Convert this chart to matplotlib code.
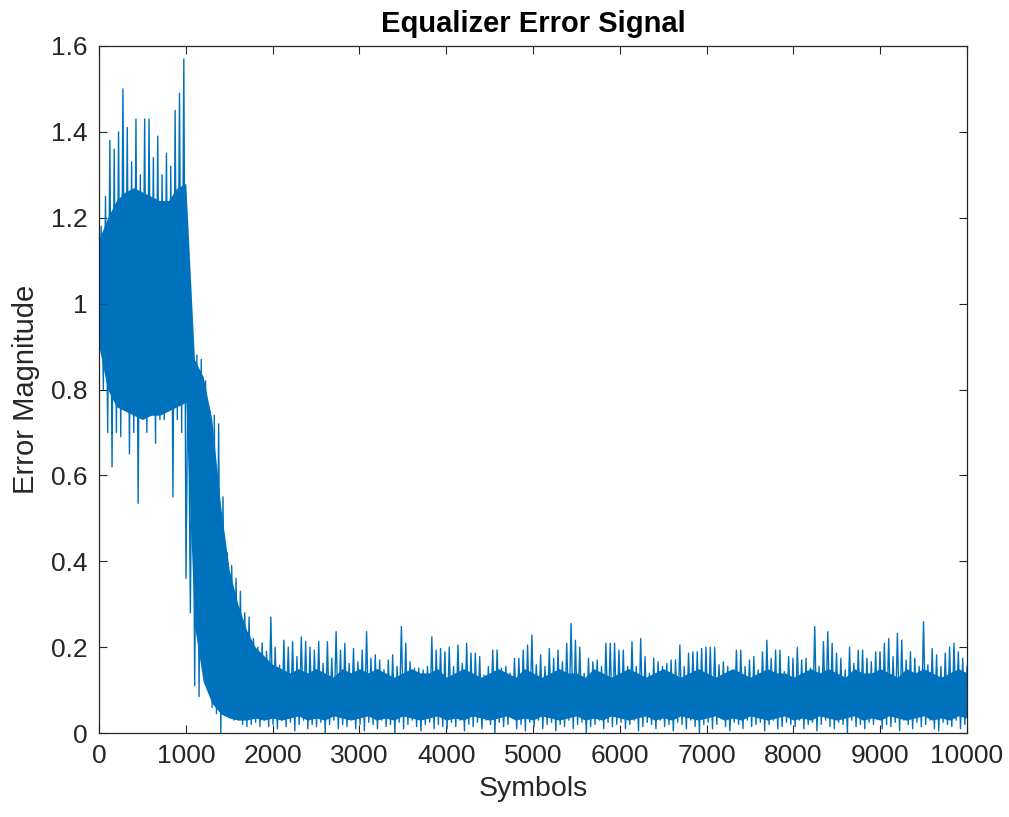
import numpy as np
import matplotlib
matplotlib.use("Agg")
import matplotlib.pyplot as plt

plt.rcParams['font.family'] = ['Liberation Sans', 'DejaVu Sans']

n_symbols = 10000
# error magnitude, one local max and one local min per 50-symbol bin
peak_vals = [
    # 0 - 1000
    1.18, 1.25, 1.38, 1.36, 1.40, 1.50, 1.41, 1.33, 1.43, 1.30,
    1.43, 1.43, 1.34, 1.39, 1.30, 1.35, 1.32, 1.45, 1.49, 1.57,
    # 1000 - 2000
    0.91, 0.89, 0.88, 0.87, 0.82, 0.75, 0.74, 0.72, 0.55, 0.42,
    0.39, 0.36, 0.33, 0.28, 0.27, 0.22, 0.20, 0.21, 0.19, 0.27,
    # 2000 - 4000
    0.200, 0.158, 0.216, 0.200, 0.213, 0.178, 0.224, 0.213, 0.200, 0.193,
    0.213, 0.162, 0.213, 0.174, 0.236, 0.193, 0.209, 0.162, 0.197, 0.166,
    0.193, 0.236, 0.174, 0.182, 0.170, 0.147, 0.170, 0.182, 0.155, 0.248,
    0.209, 0.166, 0.151, 0.151, 0.147, 0.155, 0.224, 0.193, 0.197, 0.189,
    # 4000 - 6000
    0.200, 0.155, 0.205, 0.162, 0.209, 0.186, 0.186, 0.178, 0.135, 0.155,
    0.193, 0.193, 0.151, 0.155, 0.139, 0.174, 0.174, 0.193, 0.205, 0.228,
    0.159, 0.182, 0.155, 0.197, 0.174, 0.193, 0.166, 0.209, 0.255, 0.216,
    0.200, 0.139, 0.174, 0.166, 0.170, 0.155, 0.209, 0.209, 0.209, 0.193,
    # 6000 - 8000
    0.193, 0.155, 0.213, 0.155, 0.220, 0.178, 0.139, 0.174, 0.166, 0.155,
    0.162, 0.170, 0.170, 0.205, 0.155, 0.186, 0.189, 0.189, 0.197, 0.200,
    0.200, 0.200, 0.159, 0.166, 0.155, 0.139, 0.193, 0.193, 0.155, 0.170,
    0.178, 0.147, 0.189, 0.216, 0.174, 0.193, 0.193, 0.143, 0.178, 0.174,
    # 8000 - 10000
    0.200, 0.170, 0.174, 0.151, 0.248, 0.155, 0.213, 0.236, 0.209, 0.186,
    0.174, 0.147, 0.200, 0.162, 0.193, 0.193, 0.174, 0.166, 0.189, 0.189,
    0.209, 0.220, 0.178, 0.232, 0.216, 0.170, 0.189, 0.174, 0.155, 0.259,
    0.159, 0.197, 0.182, 0.155, 0.186, 0.200, 0.209, 0.189, 0.174, 0.155,
]
trough_vals = [
    # 0 - 1000
    0.90, 0.80, 0.70, 0.62, 0.70, 0.69, 0.77, 0.65, 0.70, 0.535,
    0.80, 0.70, 0.80, 0.675, 0.73, 0.73, 0.77, 0.55, 0.73, 0.70,
    # 1000 - 2000
    0.36, 0.28, 0.11, 0.085, 0.16, 0.12, 0.06, 0.045, 0.0, 0.04,
    0.05, 0.03, 0.045, 0.02, 0.015, 0.02, 0.025, 0.015, 0.03, 0.015,
    # 2000 - 4000
    0.020, 0.010, 0.030, 0.015, 0.025, 0.005, 0.020, 0.030, 0.010, 0.020,
    0.015, 0.025, 0.000, 0.020, 0.030, 0.010, 0.020, 0.015, 0.035, 0.010,
    0.020, 0.005, 0.025, 0.020, 0.010, 0.030, 0.015, 0.020, 0.000, 0.025,
    0.010, 0.020, 0.030, 0.015, 0.005, 0.020, 0.025, 0.010, 0.020, 0.015,
    # 4000 - 6000
    0.010, 0.025, 0.015, 0.030, 0.005, 0.020, 0.015, 0.025, 0.010, 0.030,
    0.020, 0.000, 0.025, 0.015, 0.020, 0.035, 0.010, 0.020, 0.005, 0.025,
    0.015, 0.030, 0.010, 0.020, 0.025, 0.005, 0.020, 0.015, 0.030, 0.010,
    0.020, 0.025, 0.000, 0.015, 0.020, 0.030, 0.010, 0.025, 0.015, 0.020,
    # 6000 - 8000
    0.025, 0.010, 0.020, 0.030, 0.005, 0.015, 0.025, 0.020, 0.010, 0.030,
    0.015, 0.020, 0.005, 0.025, 0.020, 0.010, 0.030, 0.015, 0.000, 0.020,
    0.025, 0.010, 0.020, 0.035, 0.015, 0.005, 0.025, 0.020, 0.010, 0.030,
    0.015, 0.020, 0.025, 0.005, 0.020, 0.030, 0.010, 0.015, 0.025, 0.020,
    # 8000 - 10000
    0.015, 0.030, 0.010, 0.020, 0.025, 0.005, 0.020, 0.030, 0.015, 0.010,
    0.025, 0.020, 0.000, 0.030, 0.015, 0.020, 0.010, 0.025, 0.020, 0.035,
    0.010, 0.020, 0.015, 0.025, 0.005, 0.030, 0.020, 0.010, 0.025, 0.015,
    0.020, 0.030, 0.010, 0.005, 0.025, 0.020, 0.015, 0.030, 0.010, 0.020,
]
# edges of the solid (densely overdrawn) part of the trace, every 100 symbols
core_hi = [
    1.15, 1.20, 1.24, 1.26, 1.27, 1.26, 1.25, 1.24, 1.24, 1.27, 1.28,
    0.87, 0.83, 0.73, 0.53, 0.38, 0.30, 0.24, 0.20, 0.18, 0.16,
    0.15, 0.14, 0.15, 0.14, 0.15, 0.14, 0.13, 0.15, 0.14, 0.15,
    0.14, 0.15, 0.14, 0.13, 0.14, 0.15, 0.14, 0.14, 0.15, 0.13,
    0.14, 0.15, 0.14, 0.13, 0.14, 0.15, 0.14, 0.13, 0.15, 0.14,
    0.13, 0.14, 0.15, 0.14, 0.14, 0.13, 0.15, 0.14, 0.13, 0.14,
    0.15, 0.14, 0.13, 0.14, 0.15, 0.14, 0.13, 0.14, 0.15, 0.14,
    0.13, 0.14, 0.15, 0.14, 0.13, 0.14, 0.15, 0.14, 0.14, 0.13,
    0.14, 0.15, 0.14, 0.15, 0.14, 0.13, 0.15, 0.14, 0.14, 0.15,
    0.14, 0.13, 0.15, 0.14, 0.15, 0.14, 0.13, 0.14, 0.15, 0.14,
]
core_lo = [
    0.90, 0.80, 0.76, 0.75, 0.74, 0.73, 0.74, 0.74, 0.75, 0.76, 0.77,
    0.25, 0.12, 0.07, 0.045, 0.035, 0.03, 0.03, 0.035, 0.03, 0.035,
    0.03, 0.035, 0.04, 0.03, 0.035, 0.03, 0.04, 0.035, 0.03, 0.035,
    0.04, 0.03, 0.035, 0.03, 0.04, 0.035, 0.03, 0.035, 0.04, 0.03,
    0.035, 0.03, 0.04, 0.035, 0.03, 0.035, 0.04, 0.03, 0.035, 0.03,
    0.04, 0.035, 0.03, 0.035, 0.04, 0.03, 0.035, 0.03, 0.04, 0.035,
    0.03, 0.035, 0.04, 0.03, 0.035, 0.03, 0.04, 0.035, 0.03, 0.035,
    0.04, 0.03, 0.035, 0.03, 0.04, 0.035, 0.03, 0.035, 0.04, 0.03,
    0.035, 0.03, 0.04, 0.035, 0.03, 0.035, 0.04, 0.03, 0.035, 0.03,
    0.04, 0.035, 0.03, 0.035, 0.04, 0.03, 0.035, 0.03, 0.04, 0.035,
]
x_ticks = list(range(0, 10001, 1000))
y_ticks = [0, 0.2, 0.4, 0.6, 0.8, 1.0, 1.2, 1.4, 1.6]
y_ticklabels = ['0', '0.2', '0.4', '0.6', '0.8', '1', '1.2', '1.4', '1.6']

line_color = '#0072BD'

# interleave min/max of each bin so the line sweeps the envelope like the raw trace
err = np.column_stack([trough_vals, peak_vals]).ravel()
sym = np.linspace(0, n_symbols, len(err))
core_sym = np.linspace(0, n_symbols, len(core_hi))

fig = plt.figure(figsize=(10.09, 8.17), dpi=100)
ax = fig.add_axes([0.0981, 0.1028, 0.8603, 0.8409])
ax.fill_between(core_sym, core_lo, core_hi, color=line_color, lw=0)
ax.plot(sym, err, color=line_color, lw=1.0)

ax.set_xlim(0, n_symbols)
ax.set_ylim(0, 1.6)
ax.set_xticks(x_ticks)
ax.set_xticklabels([str(t) for t in x_ticks])
ax.set_yticks(y_ticks)
ax.set_yticklabels(y_ticklabels)
ax.tick_params(direction='in', top=True, right=True, length=6, width=0.8,
               color='#262626', labelcolor='#262626', labelsize=19, pad=8)
for s in ax.spines.values():
    s.set_color('#262626')
    s.set_linewidth(0.9)

ax.set_xlabel('Symbols', fontsize=20.5, color='#262626', labelpad=6)
ax.set_ylabel('Error Magnitude', fontsize=21, color='#262626', labelpad=8)
ax.set_title('Equalizer Error Signal', fontsize=21, fontweight='bold', pad=10)

fig.savefig('out.png', dpi=100)
